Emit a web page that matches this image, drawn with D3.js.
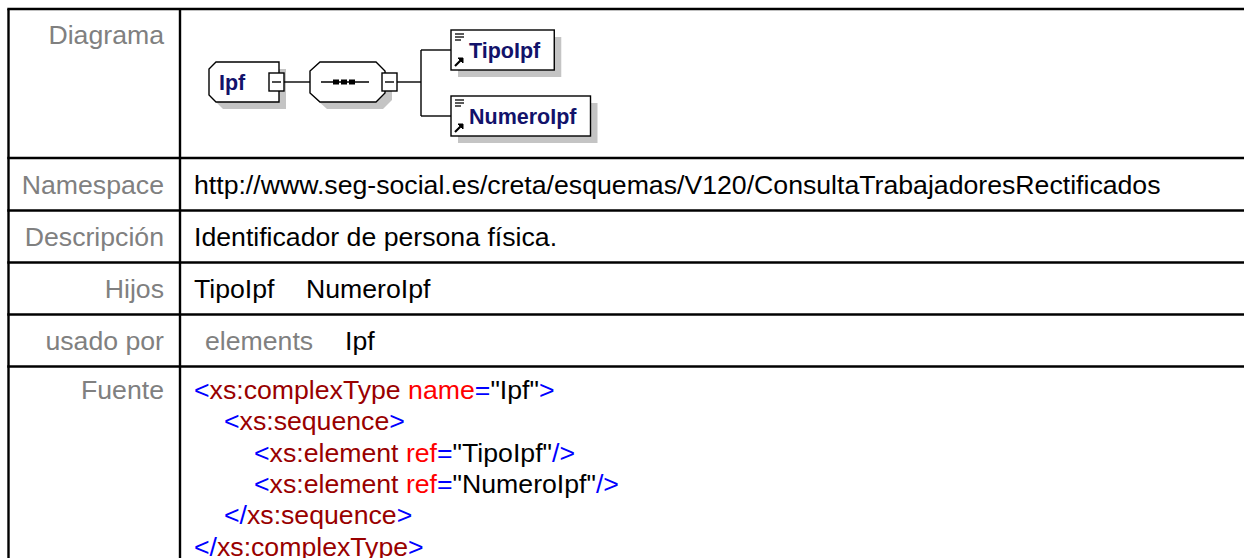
<!DOCTYPE html>
<html><head><meta charset="utf-8">
<script src="https://cdn.jsdelivr.net/npm/d3@7"></script>
<style>html,body{margin:0;padding:0;background:#fff;overflow:hidden}</style>
</head><body>
<svg id="c" width="1244" height="558"></svg>
<script>
const rowLabels = ["Diagrama","Namespace","Descripción","Hijos","usado por","Fuente"];
const namespaceText = "http://www.seg-social.es/creta/esquemas/V120/ConsultaTrabajadoresRectificados";
const descripcionText = "Identificador de persona física.";
const hijos = ["TipoIpf","NumeroIpf"];
const usadoPor = ["elements","Ipf"];
const rootName = "Ipf";
const childNames = ["TipoIpf","NumeroIpf"];
// source lines: [indentLevel, [[text, kind], ...]]
const sourceLines = [
 [0, [["<","b"],["xs:complexType","t"],[" name","a"],["=","b"],["\"Ipf\"","v"],[">","b"]]],
 [1, [["<","b"],["xs:sequence","t"],[">","b"]]],
 [2, [["<","b"],["xs:element","t"],[" ref","a"],["=","b"],["\"TipoIpf\"","v"],["/>","b"]]],
 [2, [["<","b"],["xs:element","t"],[" ref","a"],["=","b"],["\"NumeroIpf\"","v"],["/>","b"]]],
 [1, [["</","b"],["xs:sequence","t"],[">","b"]]],
 [0, [["</","b"],["xs:complexType","t"],[">","b"]]]
];

const svg = d3.select("#c");
const FONT = "'Liberation Sans', Arial, sans-serif";
const fs = 26.67;
const colors = {b:"#0000ff", t:"#990000", a:"#ff0000", v:"#000000"};

// table geometry
const left = 8.5, divX = 180, right = 1270;
const rowEdges = [9, 158, 210.5, 262.5, 314.5, 366.5, 620];
const mid = i => (rowEdges[i]+rowEdges[i+1])/2 + 9.5;
const srcTop = rowEdges[5] + 32.5, srcStep = 31.3;

const g = svg.append("g");
rowLabels.forEach((lab,i)=>{
  const ty = i===0 ? rowEdges[0] + 34.5 : (i===5 ? srcTop : mid(i));
  g.append("text").attr("x",164).attr("y",ty).attr("text-anchor","end")
   .attr("font-family",FONT).attr("font-size",fs).attr("fill","#808080").text(lab);
});
const cx = 194;
g.append("text").attr("x",cx).attr("y",mid(1)).attr("font-family",FONT).attr("font-size",fs).text(namespaceText);
g.append("text").attr("x",cx).attr("y",mid(2)).attr("font-family",FONT).attr("font-size",fs).text(descripcionText);
const hx = d3.scalePoint().domain(hijos).range([cx, 306]);
hijos.forEach(h=> g.append("text").attr("x",hx(h)).attr("y",mid(3)).attr("font-family",FONT).attr("font-size",fs).text(h));
const ux = d3.scalePoint().domain(usadoPor).range([205, 345]);
usadoPor.forEach((u,i)=> g.append("text").attr("x",ux(u)).attr("y",mid(4)).attr("font-family",FONT).attr("font-size",fs)
   .attr("fill", i===0 ? "#808080" : "#000").text(u));

// source
sourceLines.forEach((ln,i)=>{
  const t = g.append("text").attr("x", cx + ln[0]*30).attr("y", srcTop + i*srcStep)
    .attr("font-family",FONT).attr("font-size",fs).attr("xml:space","preserve");
  ln[1].forEach(p=> t.append("tspan").attr("fill",colors[p[1]]).text(p[0]));
});

// grid lines
const lines = svg.append("g").attr("stroke","#000").attr("stroke-width",2.4);
rowEdges.slice(0,-1).forEach(e=> lines.append("line").attr("x1",left-1.2).attr("x2",right).attr("y1",e).attr("y2",e));
lines.append("line").attr("x1",left).attr("x2",left).attr("y1",rowEdges[0]).attr("y2",620);
lines.append("line").attr("x1",divX).attr("x2",divX).attr("y1",rowEdges[0]).attr("y2",620);

// diagram
const d = svg.append("g");
const shadow = "#c4c4c4";
const nameColor = "#12126a";
const sw = 1.4;
const so = 7;
function minusBox(x, yc){
  d.append("rect").attr("x",x).attr("y",yc-9).attr("width",15).attr("height",18).attr("fill","#fff").attr("stroke","#000").attr("stroke-width",sw);
  d.append("line").attr("x1",x+3).attr("x2",x+12).attr("y1",yc).attr("y2",yc).attr("stroke","#000").attr("stroke-width",sw);
}
const cy = 82;
// root element (Ipf)
const rootPath = (ox,oy)=>`M${ox+216},${oy+62} L${ox+279},${oy+62} L${ox+279},${oy+102} L${ox+216},${oy+102} L${ox+209},${oy+95} L${ox+209},${oy+69} Z`;
d.append("path").attr("d",rootPath(so,so)).attr("fill",shadow);
d.append("path").attr("d",rootPath(0,0)).attr("fill","#fff").attr("stroke","#000").attr("stroke-width",sw);
d.append("text").attr("x",219).attr("y",cy+8).attr("font-family",FONT).attr("font-weight","bold").attr("font-size",21.5).attr("fill",nameColor).text(rootName);
minusBox(269, cy);
d.append("line").attr("x1",284).attr("x2",310).attr("y1",cy).attr("y2",cy).attr("stroke","#000").attr("stroke-width",sw);
// sequence
const seqPath = (ox,oy)=>`M${ox+320},${oy+62} L${ox+376},${oy+62} L${ox+385},${oy+71} L${ox+385},${oy+93} L${ox+376},${oy+102} L${ox+320},${oy+102} L${ox+310},${oy+93} L${ox+310},${oy+71} Z`;
d.append("path").attr("d",seqPath(so,so)).attr("fill",shadow);
d.append("path").attr("d",seqPath(0,0)).attr("fill","#fff").attr("stroke","#000").attr("stroke-width",sw);
d.append("line").attr("x1",321).attr("x2",369).attr("y1",cy).attr("y2",cy).attr("stroke","#000").attr("stroke-width",sw);
[333,341,349].forEach(x=> d.append("rect").attr("x",x).attr("y",cy-2.5).attr("width",6).attr("height",5).attr("fill","#000"));
minusBox(382, cy);
// branches
const childY = d3.scalePoint().domain(childNames).range([50,116]);
const bx = 421;
d.append("line").attr("x1",397).attr("x2",bx).attr("y1",cy).attr("y2",cy).attr("stroke","#000").attr("stroke-width",sw);
d.append("line").attr("x1",bx).attr("x2",bx).attr("y1",childY(childNames[0])).attr("y2",childY(childNames[1])).attr("stroke","#000").attr("stroke-width",sw);
childNames.forEach(n=>{
  const yc = childY(n);
  d.append("line").attr("x1",bx).attr("x2",451).attr("y1",yc).attr("y2",yc).attr("stroke","#000").attr("stroke-width",sw);
  const t = d.append("text").attr("x",469).attr("y",yc+7.5).attr("font-family",FONT).attr("font-weight","bold").attr("font-size",21.5).attr("fill",nameColor).text(n);
  const w = t.node().getComputedTextLength();
  const bw = 469 - 451 + w + 14;
  d.insert("rect","text").attr("x",451+so).attr("y",yc-20+so).attr("width",bw).attr("height",40).attr("fill",shadow);
  d.insert("rect","text").attr("x",451).attr("y",yc-20).attr("width",bw).attr("height",40).attr("fill","#fff").attr("stroke","#000").attr("stroke-width",sw);
  [0,3,6].forEach((o,k)=> d.append("line").attr("x1",455).attr("x2",k===2?461:464).attr("y1",yc-16+o).attr("y2",yc-16+o).attr("stroke","#000").attr("stroke-width",1.3));
  d.append("path").attr("d",`M455,${yc+16} L462,${yc+9}`).attr("stroke","#000").attr("stroke-width",2.2).attr("fill","none");
  d.append("path").attr("d",`M458,${yc+8} L463,${yc+8} L463,${yc+13} Z`).attr("stroke","#000").attr("stroke-width",1).attr("fill","#000");
});
</script>
</body></html>
